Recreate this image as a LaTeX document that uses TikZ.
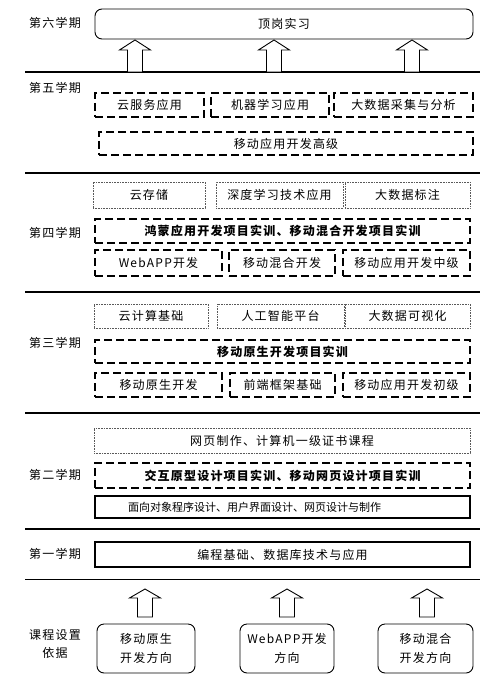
\documentclass[tikz,border=0pt]{standalone}
\usepackage{fontspec}
\newfontfamily\cjk[LetterSpace=10]{Noto Sans CJK SC}
\newfontfamily\cjktight{Noto Sans CJK SC}
\tikzset{
	lbl/.style={font=\cjk\fontsize{12}{14}\selectfont},
	txt/.style={font=\cjk\fontsize{12}{14}\selectfont, inner sep=0pt, align=center},
	sbox/.style={txt, draw, line width=1.4pt},
	dbox/.style={txt, draw, line width=1.3pt, dash pattern=on 8pt off 4pt},
	pbox/.style={txt, draw=black!65, line width=0.6pt, densely dotted},
	rbox/.style={txt, draw, line width=0.9pt, rounded corners=7pt},
	sep/.style={line width=1.5pt},
	hollow/.style={draw, line width=0.9pt, fill=white, line join=miter},
}
\begin{document}
\begin{tikzpicture}[x=1pt,y=-1pt]
	\useasboundingbox (0,0) rectangle (500,687);
	% semester labels
	\node[lbl] (l6) at (55,23) {第六学期};
	\node[lbl] (l5) at (55,88) {第五学期};
	\node[lbl] (l4) at (55,233) {第四学期};
	\node[lbl] (l3) at (55,343) {第三学期};
	\node[lbl] (l2) at (55,475) {第二学期};
	\node[lbl] (l1) at (55,554) {第一学期};
	\node[lbl, align=center, font=\cjk\fontsize{12}{18}\selectfont] (l0) at (55,644) {课程设置\\依据};
	% separators
	\foreach \sy in {72,173,292,413,529}
		\draw[sep] (25,\sy) -- (480,\sy);
	\draw[line width=1pt] (25,579) -- (480,579);
	% sixth term
	\node[rbox, minimum width=378, minimum height=30] (top) at (284,24) {顶岗实习};
	\foreach \ax in {135,274,412}
		\draw[hollow] (\ax-7.5,72) -- (\ax-7.5,50) -- (\ax-15.5,50) -- (\ax,40)
			-- (\ax+15.5,50) -- (\ax+7.5,50) -- (\ax+7.5,72) -- cycle;
	% fifth term
	\node[dbox, minimum width=109, minimum height=24] (cs) at (149.5,105) {云服务应用};
	\node[dbox, minimum width=118, minimum height=24] (ml) at (270,105) {机器学习应用};
	\node[dbox, minimum width=139, minimum height=24] (bd) at (403.5,105) {大数据采集与分析};
	\node[dbox, minimum width=374, minimum height=23] (adv) at (286,143.5) {移动应用开发高级};
	% fourth term
	\node[pbox, minimum width=112, minimum height=26] (cst) at (149,195) {云存储};
	\node[pbox, minimum width=127, minimum height=26] (dl) at (279.5,195) {深度学习技术应用};
	\node[pbox, minimum width=125, minimum height=26] (lab) at (407.5,195) {大数据标注};
	\node[dbox, minimum width=375, minimum height=24, font=\cjk\bfseries\fontsize{12}{14}\selectfont] (hm) at (282.5,231) {鸿蒙应用开发项目实训、移动混合开发项目实训};
	\node[dbox, minimum width=127, minimum height=26] (web) at (158.5,263) {WebAPP开发};
	\node[dbox, minimum width=106, minimum height=26] (hyb) at (282,263) {移动混合开发};
	\node[dbox, minimum width=127, minimum height=26] (mid) at (406.5,263) {移动应用开发中级};
	% third term
	\node[pbox, minimum width=114, minimum height=24] (cc) at (151,316) {云计算基础};
	\node[pbox, minimum width=127, minimum height=24] (ai) at (280.5,316) {人工智能平台};
	\node[pbox, minimum width=125, minimum height=24] (vis) at (407.5,316) {大数据可视化};
	\node[dbox, minimum width=375, minimum height=23, font=\cjk\bfseries\fontsize{12}{14}\selectfont] (nat) at (282.5,351.5) {移动原生开发项目实训};
	\node[dbox, minimum width=127, minimum height=24] (nd) at (158.5,385) {移动原生开发};
	\node[dbox, minimum width=105, minimum height=24] (fe) at (282.5,385) {前端框架基础};
	\node[dbox, minimum width=127, minimum height=24] (beg) at (406.5,385) {移动应用开发初级};
	% second term
	\node[pbox, minimum width=376, minimum height=25] (cert) at (282,440.5) {网页制作、计算机一级证书课程};
	\node[dbox, minimum width=375, minimum height=25, font=\cjk\bfseries\fontsize{12}{14}\selectfont] (ui) at (282.5,475.5) {交互原型设计项目实训、移动网页设计项目实训};
	\node[sbox, minimum width=375, minimum height=22, text width=309, align=left, font=\cjktight\fontsize{11}{13}\selectfont] (oop) at (282.5,507) {面向对象程序设计、用户界面设计、网页设计与制作};
	% first term
	\node[sbox, minimum width=375, minimum height=25] (base) at (282.5,554.5) {编程基础、数据库技术与应用};
	% directions
	\node[rbox, minimum width=98, minimum height=49, font=\cjk\fontsize{12}{19}\selectfont] (d1) at (146,648.5) {移动原生\\开发方向};
	\node[rbox, minimum width=94, minimum height=49, font=\cjk\fontsize{12}{19}\selectfont] (d2) at (287,648.5) {WebAPP开发\\方向};
	\node[rbox, minimum width=95, minimum height=49, font=\cjk\fontsize{12}{19}\selectfont] (d3) at (425.5,648.5) {移动混合\\开发方向};
	\foreach \ax in {145,287,427}
		\draw[hollow] (\ax-7.5,617) -- (\ax-7.5,598) -- (\ax-15.5,598) -- (\ax,589)
			-- (\ax+15.5,598) -- (\ax+7.5,598) -- (\ax+7.5,617) -- cycle;
\end{tikzpicture}
\end{document}
